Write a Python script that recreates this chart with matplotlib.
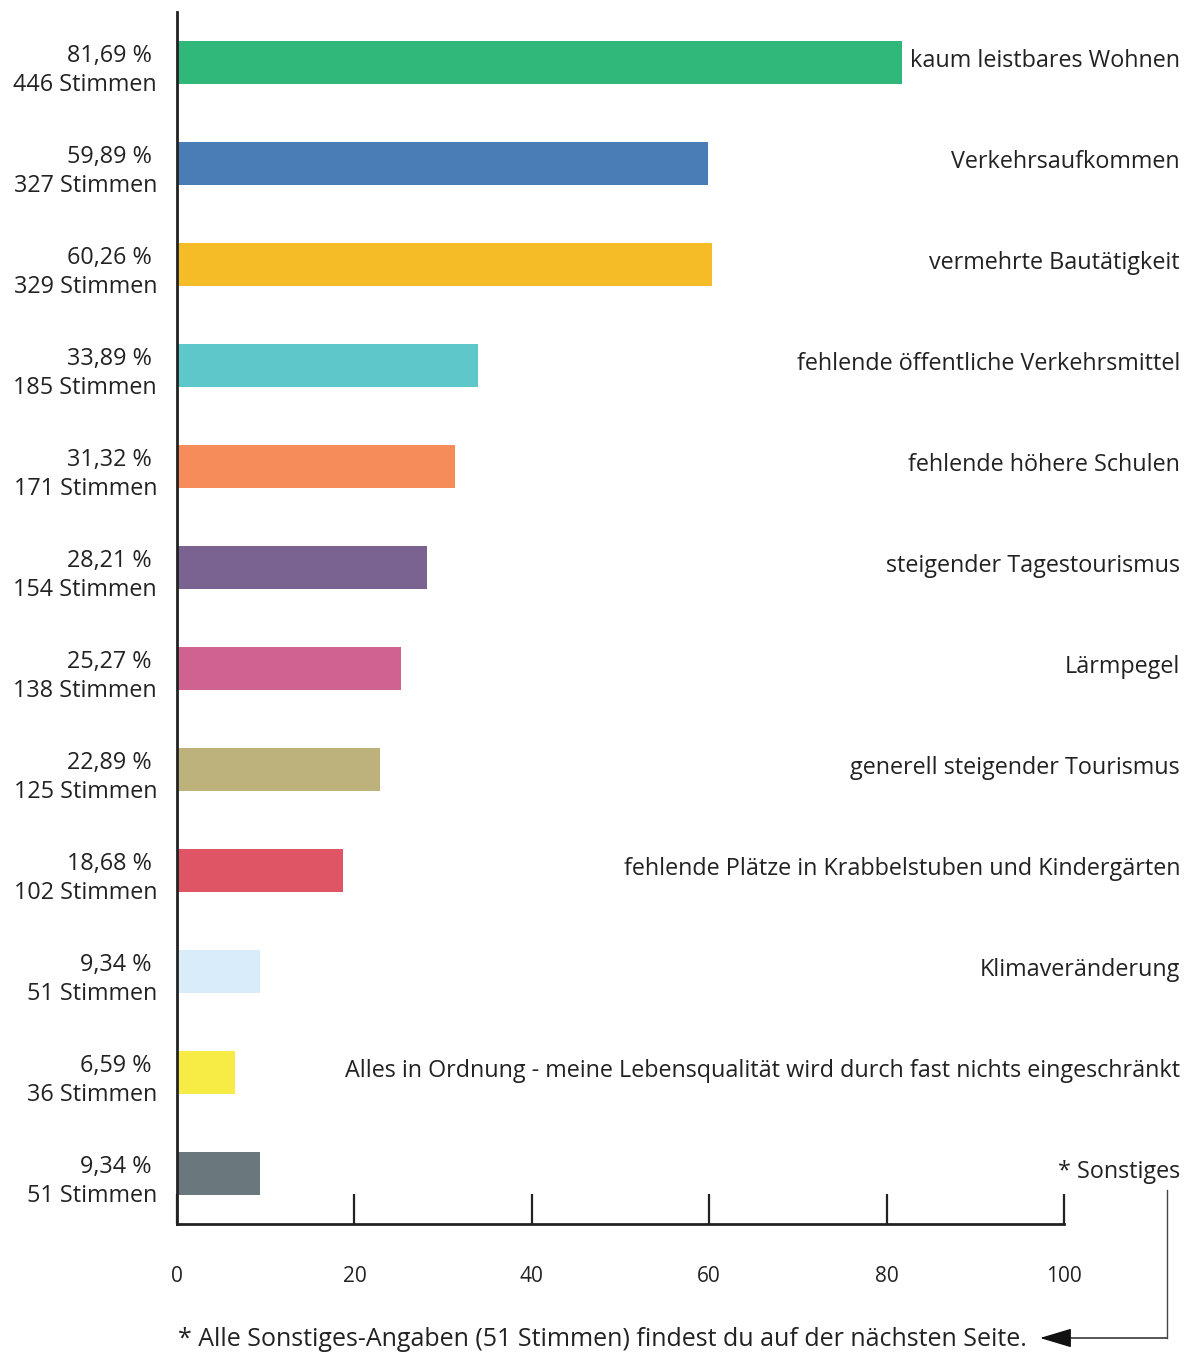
import matplotlib
matplotlib.use("Agg")
import matplotlib.pyplot as plt
import matplotlib.transforms as mtransforms
from matplotlib.lines import Line2D

categories = [
    "kaum leistbares Wohnen",
    "Verkehrsaufkommen",
    "vermehrte Bautätigkeit",
    "fehlende öffentliche Verkehrsmittel",
    "fehlende höhere Schulen",
    "steigender Tagestourismus",
    "Lärmpegel",
    "generell steigender Tourismus",
    "fehlende Plätze in Krabbelstuben und Kindergärten",
    "Klimaveränderung",
    "Alles in Ordnung - meine Lebensqualität wird durch fast nichts eingeschränkt",
    "* Sonstiges",
]
percent_labels = ["81,69 %", "59,89 %", "60,26 %", "33,89 %", "31,32 %", "28,21 %",
                  "25,27 %", "22,89 %", "18,68 %", "9,34 %", "6,59 %", "9,34 %"]
percents = [81.69, 59.89, 60.26, 33.89, 31.32, 28.21, 25.27, 22.89, 18.68, 9.34, 6.59, 9.34]
votes = [446, 327, 329, 185, 171, 154, 138, 125, 102, 51, 36, 51]
colors = ["#30B87A", "#4A7DB5", "#F6BC27", "#5EC7CA", "#F78C5B", "#7A6390",
          "#D06290", "#BDB27B", "#E05565", "#D8ECFA", "#F6EC45", "#6A777D"]
xticks = [0, 20, 40, 60, 80, 100]
footnote = "* Alle Sonstiges-Angaben (51 Stimmen) findest du auf der nächsten Seite."

plt.rcParams['font.family'] = ['Open Sans', 'DejaVu Sans']
TXT = "#222222"
W, H = 1187, 1354
fig = plt.figure(figsize=(W / 100, H / 100), dpi=100)
ax = fig.add_axes([177 / W, 1 - 1224 / H, (1064 - 177) / W, (1224 - 12) / H])

y = list(range(len(categories)))
ax.barh(y, percents, height=0.42, color=colors)
ax.set_ylim(len(categories) - 0.5, -0.5)
ax.set_xlim(0, 100)

for s in ["top", "right"]:
    ax.spines[s].set_visible(False)
for s in ["left", "bottom"]:
    ax.spines[s].set_linewidth(2)
    ax.spines[s].set_color(TXT)
ax.set_yticks([])
ax.set_xticks(xticks)
ax.set_xticklabels([str(t) for t in xticks])
ax.tick_params(axis="x", direction="in", length=21.5, width=1.6, color=TXT,
               pad=30, labelsize=15, labelcolor=TXT)

fs = 16.8
trans_r = mtransforms.blended_transform_factory(fig.transFigure, ax.transData)
for i, (cat, pl, v) in enumerate(zip(categories, percent_labels, votes)):
    ax.text(1180 / W, i - 0.015, cat, transform=trans_r, ha="right", va="center",
            fontsize=fs, color=TXT)
    ax.text(152 / W, i - 0.06, pl, transform=trans_r, ha="right", va="center",
            fontsize=fs, color=TXT)
    ax.text(157 / W, i + 0.22, f"{v} Stimmen", transform=trans_r, ha="right", va="center",
            fontsize=fs, color=TXT)

fig.text(178 / W, 1 - 1340 / H, footnote, ha="left", va="center", fontsize=18, color=TXT)

# connector arrow from "* Sonstiges" to footnote
fig.add_artist(Line2D([1167 / W, 1167 / W], [1 - 1190 / H, 1 - 1338 / H],
                      transform=fig.transFigure, color="#444444", lw=1.0))
ax.annotate("", xy=(1040 / W, 1 - 1338 / H), xycoords="figure fraction",
            xytext=(1167 / W, 1 - 1338 / H), textcoords="figure fraction",
            arrowprops=dict(arrowstyle="-|>,head_length=1.0,head_width=0.3",
                            color="#111111", lw=1.0,
                            mutation_scale=20, shrinkA=0, shrinkB=0))

fig.savefig("out.png", dpi=100)
